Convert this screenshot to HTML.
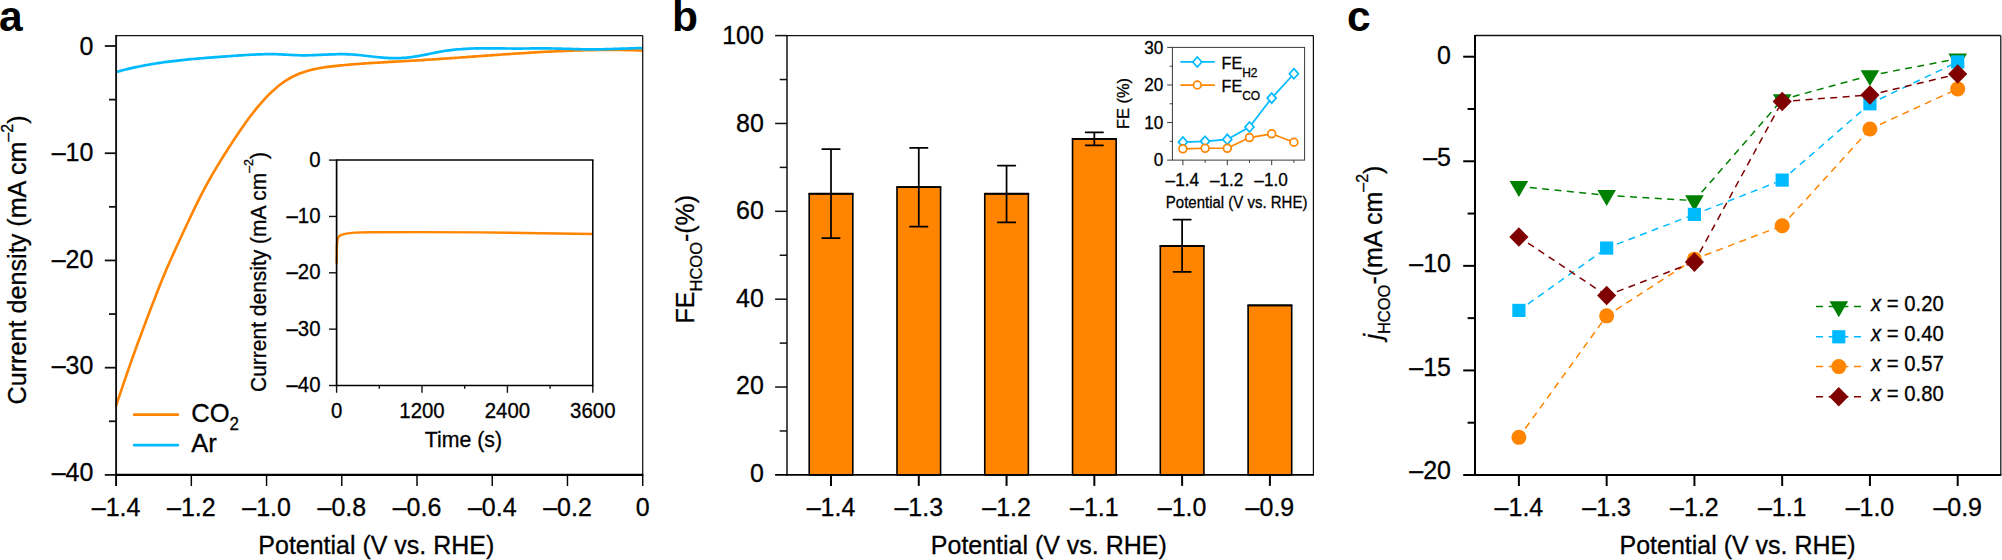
<!DOCTYPE html>
<html lang="en">
<head>
<meta charset="utf-8">
<title>Figure: electrochemical CO2 reduction performance</title>
<style>
html,body{margin:0;padding:0;background:#fff;}
body{width:2002px;height:560px;overflow:hidden;}
svg{display:block;font-family:'Liberation Sans', Arial, Helvetica, sans-serif;}
</style>
</head>
<body>
<svg width="2002" height="560" viewBox="0 0 2002 560">
<rect x="0" y="0" width="2002" height="560" fill="#ffffff"/>
<g id="panel-a">
<path d="M116.0,406.10 L118.2,399.45 L120.4,392.86 L122.6,386.34 L124.8,379.89 L127.0,373.50 L129.2,367.18 L131.4,360.92 L133.6,354.72 L135.8,348.58 L138.0,342.51 L140.3,336.49 L142.5,330.53 L144.7,324.63 L146.9,318.78 L149.1,312.99 L151.3,307.25 L153.5,301.56 L155.7,295.93 L157.9,290.35 L160.1,284.81 L162.3,279.35 L164.5,274.00 L166.7,268.78 L168.9,263.71 L171.1,258.75 L173.3,253.87 L175.5,249.04 L177.7,244.25 L179.9,239.46 L182.1,234.70 L184.3,229.94 L186.5,225.20 L188.8,220.47 L191.0,215.78 L193.2,211.15 L195.4,206.57 L197.6,202.07 L199.8,197.66 L202.0,193.35 L204.2,189.16 L206.4,185.07 L208.6,181.08 L210.8,177.18 L213.0,173.36 L215.2,169.61 L217.4,165.93 L219.6,162.32 L221.8,158.75 L224.0,155.23 L226.2,151.75 L228.4,148.30 L230.6,144.87 L232.8,141.48 L235.1,138.12 L237.3,134.80 L239.5,131.53 L241.7,128.31 L243.9,125.15 L246.1,122.05 L248.3,119.03 L250.5,116.07 L252.7,113.19 L254.9,110.40 L257.1,107.69 L259.3,105.06 L261.5,102.52 L263.7,100.06 L265.9,97.70 L268.1,95.42 L270.3,93.24 L272.5,91.15 L274.7,89.16 L276.9,87.26 L279.1,85.46 L281.3,83.76 L283.6,82.16 L285.8,80.67 L288.0,79.27 L290.2,77.99 L292.4,76.80 L294.6,75.70 L296.8,74.69 L299.0,73.77 L301.2,72.92 L303.4,72.15 L305.6,71.44 L307.8,70.79 L310.0,70.19 L312.2,69.65 L314.4,69.15 L316.6,68.69 L318.8,68.26 L321.0,67.87 L323.2,67.51 L325.4,67.18 L327.6,66.87 L329.9,66.59 L332.1,66.32 L334.3,66.08 L336.5,65.84 L338.7,65.62 L340.9,65.41 L343.1,65.20 L345.3,65.00 L347.5,64.81 L349.7,64.62 L351.9,64.44 L354.1,64.26 L356.3,64.09 L358.5,63.92 L360.7,63.76 L362.9,63.60 L365.1,63.44 L367.3,63.29 L369.5,63.14 L371.7,63.00 L373.9,62.86 L376.1,62.72 L378.4,62.59 L380.6,62.45 L382.8,62.32 L385.0,62.19 L387.2,62.07 L389.4,61.94 L391.6,61.82 L393.8,61.69 L396.0,61.57 L398.2,61.45 L400.4,61.32 L402.6,61.20 L404.8,61.08 L407.0,60.96 L409.2,60.83 L411.4,60.71 L413.6,60.58 L415.8,60.46 L418.0,60.33 L420.2,60.20 L422.4,60.06 L424.7,59.93 L426.9,59.79 L429.1,59.65 L431.3,59.51 L433.5,59.37 L435.7,59.22 L437.9,59.08 L440.1,58.93 L442.3,58.78 L444.5,58.63 L446.7,58.48 L448.9,58.33 L451.1,58.18 L453.3,58.02 L455.5,57.87 L457.7,57.71 L459.9,57.55 L462.1,57.40 L464.3,57.24 L466.5,57.08 L468.7,56.92 L470.9,56.76 L473.2,56.60 L475.4,56.44 L477.6,56.28 L479.8,56.12 L482.0,55.97 L484.2,55.81 L486.4,55.65 L488.6,55.49 L490.8,55.33 L493.0,55.17 L495.2,55.02 L497.4,54.86 L499.6,54.71 L501.8,54.55 L504.0,54.40 L506.2,54.25 L508.4,54.10 L510.6,53.95 L512.8,53.80 L515.0,53.65 L517.2,53.51 L519.5,53.37 L521.7,53.22 L523.9,53.08 L526.1,52.95 L528.3,52.81 L530.5,52.68 L532.7,52.54 L534.9,52.41 L537.1,52.29 L539.3,52.16 L541.5,52.04 L543.7,51.92 L545.9,51.80 L548.1,51.69 L550.3,51.57 L552.5,51.47 L554.7,51.36 L556.9,51.26 L559.1,51.16 L561.3,51.06 L563.5,50.97 L565.7,50.88 L568.0,50.79 L570.2,50.71 L572.4,50.63 L574.6,50.55 L576.8,50.48 L579.0,50.42 L581.2,50.35 L583.4,50.29 L585.6,50.24 L587.8,50.19 L590.0,50.14 L592.2,50.10 L594.4,50.06 L596.6,50.03 L598.8,50.00 L601.0,49.98 L603.2,49.96 L605.4,49.95 L607.6,49.94 L609.8,49.93 L612.0,49.94 L614.3,49.94 L616.5,49.96 L618.7,49.97 L620.9,50.00 L623.1,50.03 L625.3,50.06 L627.5,50.10 L629.7,50.15 L631.9,50.20 L634.1,50.26 L636.3,50.33 L638.5,50.40 L640.7,50.48 L642.9,50.56" fill="none" stroke="#FF8500" stroke-width="2.65" stroke-linejoin="round"/>
<path d="M116.0,72.06 L118.2,71.44 L120.4,70.85 L122.6,70.27 L124.8,69.71 L127.0,69.17 L129.2,68.64 L131.4,68.13 L133.6,67.64 L135.8,67.16 L138.0,66.70 L140.2,66.25 L142.5,65.82 L144.7,65.40 L146.9,64.99 L149.1,64.60 L151.3,64.22 L153.5,63.85 L155.7,63.50 L157.9,63.16 L160.1,62.82 L162.3,62.50 L164.5,62.20 L166.7,61.90 L168.9,61.61 L171.1,61.33 L173.3,61.06 L175.5,60.80 L177.7,60.55 L179.9,60.30 L182.1,60.06 L184.3,59.84 L186.5,59.61 L188.7,59.40 L190.9,59.19 L193.1,58.99 L195.4,58.79 L197.6,58.60 L199.8,58.41 L202.0,58.23 L204.2,58.05 L206.4,57.87 L208.6,57.70 L210.8,57.53 L213.0,57.37 L215.2,57.20 L217.4,57.04 L219.6,56.88 L221.8,56.72 L224.0,56.56 L226.2,56.40 L228.4,56.24 L230.6,56.08 L232.8,55.93 L235.0,55.77 L237.2,55.61 L239.4,55.46 L241.6,55.31 L243.8,55.16 L246.0,55.02 L248.3,54.89 L250.5,54.76 L252.7,54.65 L254.9,54.54 L257.1,54.45 L259.3,54.36 L261.5,54.30 L263.7,54.24 L265.9,54.20 L268.1,54.18 L270.3,54.17 L272.5,54.18 L274.7,54.21 L276.9,54.26 L279.1,54.33 L281.3,54.42 L283.5,54.53 L285.7,54.65 L287.9,54.77 L290.1,54.88 L292.3,55.00 L294.5,55.10 L296.7,55.19 L298.9,55.26 L301.2,55.30 L303.4,55.31 L305.6,55.31 L307.8,55.28 L310.0,55.23 L312.2,55.17 L314.4,55.09 L316.6,55.01 L318.8,54.92 L321.0,54.82 L323.2,54.72 L325.4,54.62 L327.6,54.53 L329.8,54.44 L332.0,54.36 L334.2,54.29 L336.4,54.24 L338.6,54.20 L340.8,54.18 L343.0,54.19 L345.2,54.22 L347.4,54.28 L349.6,54.37 L351.8,54.49 L354.1,54.64 L356.3,54.82 L358.5,55.02 L360.7,55.24 L362.9,55.47 L365.1,55.72 L367.3,55.97 L369.5,56.23 L371.7,56.49 L373.9,56.74 L376.1,56.98 L378.3,57.22 L380.5,57.43 L382.7,57.63 L384.9,57.80 L387.1,57.95 L389.3,58.06 L391.5,58.14 L393.7,58.18 L395.9,58.18 L398.1,58.14 L400.3,58.06 L402.5,57.94 L404.7,57.78 L407.0,57.58 L409.2,57.34 L411.4,57.07 L413.6,56.77 L415.8,56.43 L418.0,56.07 L420.2,55.68 L422.4,55.27 L424.6,54.84 L426.8,54.40 L429.0,53.95 L431.2,53.49 L433.4,53.04 L435.6,52.60 L437.8,52.18 L440.0,51.78 L442.2,51.40 L444.4,51.04 L446.6,50.71 L448.8,50.41 L451.0,50.13 L453.2,49.87 L455.4,49.63 L457.6,49.42 L459.9,49.23 L462.1,49.06 L464.3,48.92 L466.5,48.79 L468.7,48.68 L470.9,48.58 L473.1,48.51 L475.3,48.45 L477.5,48.40 L479.7,48.36 L481.9,48.34 L484.1,48.32 L486.3,48.32 L488.5,48.32 L490.7,48.33 L492.9,48.34 L495.1,48.36 L497.3,48.38 L499.5,48.41 L501.7,48.43 L503.9,48.46 L506.1,48.48 L508.3,48.50 L510.5,48.52 L512.8,48.54 L515.0,48.54 L517.2,48.54 L519.4,48.54 L521.6,48.53 L523.8,48.52 L526.0,48.50 L528.2,48.48 L530.4,48.46 L532.6,48.44 L534.8,48.43 L537.0,48.41 L539.2,48.40 L541.4,48.40 L543.6,48.40 L545.8,48.40 L548.0,48.42 L550.2,48.44 L552.4,48.48 L554.6,48.52 L556.8,48.57 L559.0,48.62 L561.2,48.69 L563.4,48.75 L565.7,48.82 L567.9,48.89 L570.1,48.96 L572.3,49.02 L574.5,49.09 L576.7,49.15 L578.9,49.21 L581.1,49.26 L583.3,49.30 L585.5,49.34 L587.7,49.37 L589.9,49.38 L592.1,49.38 L594.3,49.38 L596.5,49.36 L598.7,49.33 L600.9,49.29 L603.1,49.25 L605.3,49.19 L607.5,49.13 L609.7,49.07 L611.9,49.00 L614.1,48.93 L616.3,48.86 L618.6,48.78 L620.8,48.70 L623.0,48.63 L625.2,48.55 L627.4,48.48 L629.6,48.40 L631.8,48.34 L634.0,48.27 L636.2,48.21 L638.4,48.16 L640.6,48.11 L642.8,48.08" fill="none" stroke="#00BAFF" stroke-width="2.7" stroke-linejoin="round"/>
<line x1="116.10" y1="35.60" x2="642.70" y2="35.60" stroke="#111111" stroke-width="1.3" />
<line x1="642.70" y1="35.60" x2="642.70" y2="474.90" stroke="#111111" stroke-width="1.25" />
<line x1="116.10" y1="35.00" x2="116.10" y2="475.90" stroke="#111111" stroke-width="1.9" />
<line x1="115.10" y1="474.90" x2="643.30" y2="474.90" stroke="#000" stroke-width="2.1" />
<line x1="104.80" y1="46.00" x2="116.10" y2="46.00" stroke="#111111" stroke-width="1.8" />
<text transform="translate(93.40,54.80) scale(0.9588,1)" font-size="26.07" text-anchor="end" fill="#000000" stroke="#000000" stroke-width="0.3" >0</text>
<line x1="109.00" y1="99.61" x2="116.10" y2="99.61" stroke="#111111" stroke-width="1.8" />
<line x1="104.80" y1="153.22" x2="116.10" y2="153.22" stroke="#111111" stroke-width="1.8" />
<text transform="translate(93.40,161.35) scale(0.9588,1)" font-size="26.07" text-anchor="end" fill="#000000" stroke="#000000" stroke-width="0.3" >–10</text>
<line x1="109.00" y1="206.84" x2="116.10" y2="206.84" stroke="#111111" stroke-width="1.8" />
<line x1="104.80" y1="260.45" x2="116.10" y2="260.45" stroke="#111111" stroke-width="1.8" />
<text transform="translate(93.40,267.90) scale(0.9588,1)" font-size="26.07" text-anchor="end" fill="#000000" stroke="#000000" stroke-width="0.3" >–20</text>
<line x1="109.00" y1="314.06" x2="116.10" y2="314.06" stroke="#111111" stroke-width="1.8" />
<line x1="104.80" y1="367.67" x2="116.10" y2="367.67" stroke="#111111" stroke-width="1.8" />
<text transform="translate(93.40,374.45) scale(0.9588,1)" font-size="26.07" text-anchor="end" fill="#000000" stroke="#000000" stroke-width="0.3" >–30</text>
<line x1="109.00" y1="421.29" x2="116.10" y2="421.29" stroke="#111111" stroke-width="1.8" />
<line x1="104.80" y1="474.90" x2="116.10" y2="474.90" stroke="#111111" stroke-width="1.8" />
<text transform="translate(93.40,481.00) scale(0.9588,1)" font-size="26.07" text-anchor="end" fill="#000000" stroke="#000000" stroke-width="0.3" >–40</text>
<line x1="116.10" y1="474.90" x2="116.10" y2="486.00" stroke="#000" stroke-width="1.9" />
<text transform="translate(116.10,515.80) scale(0.9588,1)" font-size="26.07" text-anchor="middle" fill="#000000" stroke="#000000" stroke-width="0.3" >–1.4</text>
<line x1="191.33" y1="474.90" x2="191.33" y2="486.00" stroke="#000" stroke-width="1.45" />
<text transform="translate(191.33,515.80) scale(0.9588,1)" font-size="26.07" text-anchor="middle" fill="#000000" stroke="#000000" stroke-width="0.3" >–1.2</text>
<line x1="266.56" y1="474.90" x2="266.56" y2="486.00" stroke="#000" stroke-width="1.45" />
<text transform="translate(266.56,515.80) scale(0.9588,1)" font-size="26.07" text-anchor="middle" fill="#000000" stroke="#000000" stroke-width="0.3" >–1.0</text>
<line x1="341.79" y1="474.90" x2="341.79" y2="486.00" stroke="#000" stroke-width="1.45" />
<text transform="translate(341.79,515.80) scale(0.9588,1)" font-size="26.07" text-anchor="middle" fill="#000000" stroke="#000000" stroke-width="0.3" >–0.8</text>
<line x1="417.01" y1="474.90" x2="417.01" y2="486.00" stroke="#000" stroke-width="1.45" />
<text transform="translate(417.01,515.80) scale(0.9588,1)" font-size="26.07" text-anchor="middle" fill="#000000" stroke="#000000" stroke-width="0.3" >–0.6</text>
<line x1="492.24" y1="474.90" x2="492.24" y2="486.00" stroke="#000" stroke-width="1.45" />
<text transform="translate(492.24,515.80) scale(0.9588,1)" font-size="26.07" text-anchor="middle" fill="#000000" stroke="#000000" stroke-width="0.3" >–0.4</text>
<line x1="567.47" y1="474.90" x2="567.47" y2="486.00" stroke="#000" stroke-width="1.45" />
<text transform="translate(567.47,515.80) scale(0.9588,1)" font-size="26.07" text-anchor="middle" fill="#000000" stroke="#000000" stroke-width="0.3" >–0.2</text>
<line x1="642.70" y1="474.90" x2="642.70" y2="486.00" stroke="#000" stroke-width="1.45" />
<text transform="translate(642.70,515.80) scale(0.9588,1)" font-size="26.07" text-anchor="middle" fill="#000000" stroke="#000000" stroke-width="0.3" >0</text>
<text transform="translate(376.30,553.50) scale(0.9588,1)" font-size="26.07" text-anchor="middle" fill="#000000" stroke="#000000" stroke-width="0.3" >Potential (V vs. RHE)</text>
<text transform="translate(25.70,260.00) rotate(-90) scale(0.9588,1)" font-size="26.28" text-anchor="middle" fill="#000000" stroke="#000000" stroke-width="0.3" >Current density (mA cm<tspan font-size="16.48" dy="-13.0">–2</tspan><tspan font-size="26.28" dy="13.0">)</tspan></text>
<text x="-1" y="31" font-size="42.5" font-weight="bold" fill="#000">a</text>
<line x1="134.20" y1="414.70" x2="177.80" y2="414.70" stroke="#FF8500" stroke-width="2.8" stroke-linecap="round"/>
<text transform="translate(191.20,421.70) scale(0.9588,1)" font-size="26.70" text-anchor="start" fill="#000000" stroke="#000000" stroke-width="0.3" >CO<tspan font-size="17.73" dy="8.6">2</tspan></text>
<line x1="134.20" y1="445.10" x2="177.80" y2="445.10" stroke="#00BAFF" stroke-width="2.8" stroke-linecap="round"/>
<text transform="translate(191.20,452.00) scale(0.9588,1)" font-size="26.70" text-anchor="start" fill="#000000" stroke="#000000" stroke-width="0.3" >Ar</text>
<path d="M336.60,263.40 L336.90,245.00 L337.60,239.00 L339.00,236.30 L341.40,234.90 L346.00,233.60 L354.30,232.60 L370.00,232.20 L420.00,232.10 L480.00,232.40 L540.00,233.20 L592.90,234.00" fill="none" stroke="#FF8500" stroke-width="2.4" stroke-linejoin="round"/>
<line x1="336.60" y1="160.10" x2="593.55" y2="160.10" stroke="#000" stroke-width="1.5" />
<line x1="592.80" y1="160.10" x2="592.80" y2="385.50" stroke="#000" stroke-width="1.5" />
<line x1="336.60" y1="159.35" x2="336.60" y2="386.30" stroke="#000" stroke-width="1.7" />
<line x1="335.80" y1="385.50" x2="593.55" y2="385.50" stroke="#000" stroke-width="1.7" />
<line x1="329.00" y1="160.10" x2="336.60" y2="160.10" stroke="#111111" stroke-width="1.4" />
<text transform="translate(320.50,167.20) scale(0.9588,1)" font-size="21.28" text-anchor="end" fill="#000000" stroke="#000000" stroke-width="0.3" >0</text>
<line x1="329.00" y1="216.45" x2="336.60" y2="216.45" stroke="#111111" stroke-width="1.4" />
<text transform="translate(320.50,223.30) scale(0.9588,1)" font-size="21.28" text-anchor="end" fill="#000000" stroke="#000000" stroke-width="0.3" >–10</text>
<line x1="329.00" y1="272.80" x2="336.60" y2="272.80" stroke="#111111" stroke-width="1.4" />
<text transform="translate(320.50,279.40) scale(0.9588,1)" font-size="21.28" text-anchor="end" fill="#000000" stroke="#000000" stroke-width="0.3" >–20</text>
<line x1="329.00" y1="329.15" x2="336.60" y2="329.15" stroke="#111111" stroke-width="1.4" />
<text transform="translate(320.50,335.50) scale(0.9588,1)" font-size="21.28" text-anchor="end" fill="#000000" stroke="#000000" stroke-width="0.3" >–30</text>
<line x1="329.00" y1="385.50" x2="336.60" y2="385.50" stroke="#111111" stroke-width="1.4" />
<text transform="translate(320.50,391.60) scale(0.9588,1)" font-size="21.28" text-anchor="end" fill="#000000" stroke="#000000" stroke-width="0.3" >–40</text>
<line x1="336.60" y1="385.50" x2="336.60" y2="392.80" stroke="#111111" stroke-width="1.4" />
<text transform="translate(336.60,418.40) scale(0.9588,1)" font-size="21.28" text-anchor="middle" fill="#000000" stroke="#000000" stroke-width="0.3" >0</text>
<line x1="379.30" y1="385.50" x2="379.30" y2="388.80" stroke="#111111" stroke-width="1.4" />
<line x1="422.00" y1="385.50" x2="422.00" y2="392.80" stroke="#111111" stroke-width="1.4" />
<text transform="translate(422.00,418.40) scale(0.9588,1)" font-size="21.28" text-anchor="middle" fill="#000000" stroke="#000000" stroke-width="0.3" >1200</text>
<line x1="464.70" y1="385.50" x2="464.70" y2="388.80" stroke="#111111" stroke-width="1.4" />
<line x1="507.40" y1="385.50" x2="507.40" y2="392.80" stroke="#111111" stroke-width="1.4" />
<text transform="translate(507.40,418.40) scale(0.9588,1)" font-size="21.28" text-anchor="middle" fill="#000000" stroke="#000000" stroke-width="0.3" >2400</text>
<line x1="550.10" y1="385.50" x2="550.10" y2="388.80" stroke="#111111" stroke-width="1.4" />
<line x1="592.80" y1="385.50" x2="592.80" y2="392.80" stroke="#111111" stroke-width="1.4" />
<text transform="translate(592.80,418.40) scale(0.9588,1)" font-size="21.28" text-anchor="middle" fill="#000000" stroke="#000000" stroke-width="0.3" >3600</text>
<text transform="translate(463.40,447.00) scale(0.9588,1)" font-size="22.22" text-anchor="middle" fill="#000000" stroke="#000000" stroke-width="0.3" >Time (s)</text>
<text transform="translate(265.70,272.00) rotate(-90) scale(0.9588,1)" font-size="21.90" text-anchor="middle" fill="#000000" stroke="#000000" stroke-width="0.3" >Current density (mA cm<tspan font-size="12.93" dy="-12.8">–2</tspan><tspan font-size="21.90" dy="12.8">)</tspan></text>
</g>
<g id="panel-b">
<rect x="809.20" y="193.75" width="43.60" height="281.15" fill="#FF8500" stroke="#000" stroke-width="1.6" stroke-linejoin="round"/>
<line x1="809.20" y1="193.75" x2="852.80" y2="193.75" stroke="#000" stroke-width="1.85" stroke-linecap="round"/>
<line x1="831.00" y1="149.00" x2="831.00" y2="238.00" stroke="#000" stroke-width="1.75" />
<line x1="822.30" y1="149.20" x2="839.70" y2="149.20" stroke="#000" stroke-width="1.75" stroke-linecap="round"/>
<line x1="822.30" y1="238.00" x2="839.70" y2="238.00" stroke="#000" stroke-width="1.75" stroke-linecap="round"/>
<rect x="896.98" y="187.16" width="43.60" height="287.74" fill="#FF8500" stroke="#000" stroke-width="1.6" stroke-linejoin="round"/>
<line x1="896.98" y1="187.16" x2="940.58" y2="187.16" stroke="#000" stroke-width="1.85" stroke-linecap="round"/>
<line x1="918.78" y1="147.70" x2="918.78" y2="226.70" stroke="#000" stroke-width="1.75" />
<line x1="910.08" y1="147.90" x2="927.48" y2="147.90" stroke="#000" stroke-width="1.75" stroke-linecap="round"/>
<line x1="910.08" y1="226.70" x2="927.48" y2="226.70" stroke="#000" stroke-width="1.75" stroke-linecap="round"/>
<rect x="984.76" y="193.75" width="43.60" height="281.15" fill="#FF8500" stroke="#000" stroke-width="1.6" stroke-linejoin="round"/>
<line x1="984.76" y1="193.75" x2="1028.36" y2="193.75" stroke="#000" stroke-width="1.85" stroke-linecap="round"/>
<line x1="1006.56" y1="165.40" x2="1006.56" y2="222.40" stroke="#000" stroke-width="1.75" />
<line x1="997.86" y1="165.60" x2="1015.26" y2="165.60" stroke="#000" stroke-width="1.75" stroke-linecap="round"/>
<line x1="997.86" y1="222.40" x2="1015.26" y2="222.40" stroke="#000" stroke-width="1.75" stroke-linecap="round"/>
<rect x="1072.54" y="138.84" width="43.60" height="336.06" fill="#FF8500" stroke="#000" stroke-width="1.6" stroke-linejoin="round"/>
<line x1="1072.54" y1="138.84" x2="1116.14" y2="138.84" stroke="#000" stroke-width="1.85" stroke-linecap="round"/>
<line x1="1094.34" y1="132.10" x2="1094.34" y2="145.30" stroke="#000" stroke-width="1.75" />
<line x1="1085.64" y1="132.30" x2="1103.04" y2="132.30" stroke="#000" stroke-width="1.75" stroke-linecap="round"/>
<line x1="1085.64" y1="145.30" x2="1103.04" y2="145.30" stroke="#000" stroke-width="1.75" stroke-linecap="round"/>
<rect x="1160.32" y="246.02" width="43.60" height="228.88" fill="#FF8500" stroke="#000" stroke-width="1.6" stroke-linejoin="round"/>
<line x1="1160.32" y1="246.02" x2="1203.92" y2="246.02" stroke="#000" stroke-width="1.85" stroke-linecap="round"/>
<line x1="1182.12" y1="219.30" x2="1182.12" y2="271.80" stroke="#000" stroke-width="1.75" />
<line x1="1173.42" y1="219.50" x2="1190.82" y2="219.50" stroke="#000" stroke-width="1.75" stroke-linecap="round"/>
<line x1="1173.42" y1="271.80" x2="1190.82" y2="271.80" stroke="#000" stroke-width="1.75" stroke-linecap="round"/>
<rect x="1248.10" y="305.33" width="43.60" height="169.57" fill="#FF8500" stroke="#000" stroke-width="1.6" stroke-linejoin="round"/>
<line x1="1248.10" y1="305.33" x2="1291.70" y2="305.33" stroke="#000" stroke-width="1.85" stroke-linecap="round"/>
<line x1="787.00" y1="35.60" x2="1313.40" y2="35.60" stroke="#111111" stroke-width="1.3" />
<line x1="1313.40" y1="35.60" x2="1313.40" y2="474.90" stroke="#111111" stroke-width="1.25" />
<line x1="787.00" y1="35.00" x2="787.00" y2="475.80" stroke="#111111" stroke-width="1.5" />
<line x1="775.10" y1="474.90" x2="1314.00" y2="474.90" stroke="#000" stroke-width="1.9" />
<text transform="translate(763.80,482.00) scale(0.9588,1)" font-size="26.07" text-anchor="end" fill="#000000" stroke="#000000" stroke-width="0.3" >0</text>
<line x1="779.70" y1="430.97" x2="787.00" y2="430.97" stroke="#111111" stroke-width="1.5" />
<line x1="775.10" y1="387.04" x2="787.00" y2="387.04" stroke="#111111" stroke-width="1.5" />
<text transform="translate(763.80,394.46) scale(0.9588,1)" font-size="26.07" text-anchor="end" fill="#000000" stroke="#000000" stroke-width="0.3" >20</text>
<line x1="779.70" y1="343.11" x2="787.00" y2="343.11" stroke="#111111" stroke-width="1.5" />
<line x1="775.10" y1="299.18" x2="787.00" y2="299.18" stroke="#111111" stroke-width="1.5" />
<text transform="translate(763.80,306.92) scale(0.9588,1)" font-size="26.07" text-anchor="end" fill="#000000" stroke="#000000" stroke-width="0.3" >40</text>
<line x1="779.70" y1="255.25" x2="787.00" y2="255.25" stroke="#111111" stroke-width="1.5" />
<line x1="775.10" y1="211.32" x2="787.00" y2="211.32" stroke="#111111" stroke-width="1.5" />
<text transform="translate(763.80,219.38) scale(0.9588,1)" font-size="26.07" text-anchor="end" fill="#000000" stroke="#000000" stroke-width="0.3" >60</text>
<line x1="779.70" y1="167.39" x2="787.00" y2="167.39" stroke="#111111" stroke-width="1.5" />
<line x1="775.10" y1="123.46" x2="787.00" y2="123.46" stroke="#111111" stroke-width="1.5" />
<text transform="translate(763.80,131.84) scale(0.9588,1)" font-size="26.07" text-anchor="end" fill="#000000" stroke="#000000" stroke-width="0.3" >80</text>
<line x1="779.70" y1="79.53" x2="787.00" y2="79.53" stroke="#111111" stroke-width="1.5" />
<line x1="775.10" y1="35.60" x2="787.00" y2="35.60" stroke="#111111" stroke-width="1.5" />
<text transform="translate(763.80,44.30) scale(0.9588,1)" font-size="26.07" text-anchor="end" fill="#000000" stroke="#000000" stroke-width="0.3" >100</text>
<line x1="831.00" y1="474.90" x2="831.00" y2="485.90" stroke="#000" stroke-width="2.0" />
<text transform="translate(831.00,515.80) scale(0.9588,1)" font-size="26.07" text-anchor="middle" fill="#000000" stroke="#000000" stroke-width="0.3" >–1.4</text>
<line x1="918.78" y1="474.90" x2="918.78" y2="485.90" stroke="#000" stroke-width="2.0" />
<text transform="translate(918.78,515.80) scale(0.9588,1)" font-size="26.07" text-anchor="middle" fill="#000000" stroke="#000000" stroke-width="0.3" >–1.3</text>
<line x1="1006.56" y1="474.90" x2="1006.56" y2="485.90" stroke="#000" stroke-width="2.0" />
<text transform="translate(1006.56,515.80) scale(0.9588,1)" font-size="26.07" text-anchor="middle" fill="#000000" stroke="#000000" stroke-width="0.3" >–1.2</text>
<line x1="1094.34" y1="474.90" x2="1094.34" y2="485.90" stroke="#000" stroke-width="2.0" />
<text transform="translate(1094.34,515.80) scale(0.9588,1)" font-size="26.07" text-anchor="middle" fill="#000000" stroke="#000000" stroke-width="0.3" >–1.1</text>
<line x1="1182.12" y1="474.90" x2="1182.12" y2="485.90" stroke="#000" stroke-width="2.0" />
<text transform="translate(1182.12,515.80) scale(0.9588,1)" font-size="26.07" text-anchor="middle" fill="#000000" stroke="#000000" stroke-width="0.3" >–1.0</text>
<line x1="1269.90" y1="474.90" x2="1269.90" y2="485.90" stroke="#000" stroke-width="2.0" />
<text transform="translate(1269.90,515.80) scale(0.9588,1)" font-size="26.07" text-anchor="middle" fill="#000000" stroke="#000000" stroke-width="0.3" >–0.9</text>
<text transform="translate(1048.80,553.50) scale(0.9588,1)" font-size="26.07" text-anchor="middle" fill="#000000" stroke="#000000" stroke-width="0.3" >Potential (V vs. RHE)</text>
<text transform="translate(694.00,323.40) rotate(-90) scale(0.9588,1)" font-size="26.07" text-anchor="start" fill="#000000" stroke="#000000" stroke-width="0.3" >FE<tspan font-size="17.21" dy="8">HCOO</tspan><tspan font-size="26.07" dy="-8">-(%)</tspan></text>
<text x="672" y="31" font-size="42.5" font-weight="bold" fill="#000">b</text>
<rect x="1172.4" y="47.4" width="132.20" height="112.70" fill="#fff" stroke="none"/>
<path d="M1182.90,142.07 L1205.10,141.32 L1227.30,139.44 L1249.50,127.04 L1271.70,98.12 L1293.90,73.70" fill="none" stroke="#00BAFF" stroke-width="1.7"/>
<path d="M1182.90,137.03 L1187.40,142.07 L1182.90,147.11 L1178.40,142.07 Z" fill="#fff" stroke="#00BAFF" stroke-width="1.7" stroke-linejoin="miter"/>
<path d="M1205.10,136.28 L1209.60,141.32 L1205.10,146.36 L1200.60,141.32 Z" fill="#fff" stroke="#00BAFF" stroke-width="1.7" stroke-linejoin="miter"/>
<path d="M1227.30,134.40 L1231.80,139.44 L1227.30,144.48 L1222.80,139.44 Z" fill="#fff" stroke="#00BAFF" stroke-width="1.7" stroke-linejoin="miter"/>
<path d="M1249.50,122.00 L1254.00,127.04 L1249.50,132.08 L1245.00,127.04 Z" fill="#fff" stroke="#00BAFF" stroke-width="1.7" stroke-linejoin="miter"/>
<path d="M1271.70,93.08 L1276.20,98.12 L1271.70,103.16 L1267.20,98.12 Z" fill="#fff" stroke="#00BAFF" stroke-width="1.7" stroke-linejoin="miter"/>
<path d="M1293.90,68.66 L1298.40,73.70 L1293.90,78.74 L1289.40,73.70 Z" fill="#fff" stroke="#00BAFF" stroke-width="1.7" stroke-linejoin="miter"/>
<path d="M1182.90,148.83 L1205.10,148.27 L1227.30,148.27 L1249.50,137.56 L1271.70,133.80 L1293.90,142.26" fill="none" stroke="#FF8500" stroke-width="1.7"/>
<circle cx="1182.90" cy="148.83" r="3.9" fill="#fff" stroke="#FF8500" stroke-width="1.7"/>
<circle cx="1205.10" cy="148.27" r="3.9" fill="#fff" stroke="#FF8500" stroke-width="1.7"/>
<circle cx="1227.30" cy="148.27" r="3.9" fill="#fff" stroke="#FF8500" stroke-width="1.7"/>
<circle cx="1249.50" cy="137.56" r="3.9" fill="#fff" stroke="#FF8500" stroke-width="1.7"/>
<circle cx="1271.70" cy="133.80" r="3.9" fill="#fff" stroke="#FF8500" stroke-width="1.7"/>
<circle cx="1293.90" cy="142.26" r="3.9" fill="#fff" stroke="#FF8500" stroke-width="1.7"/>
<rect x="1172.4" y="47.4" width="132.20" height="112.70" fill="none" stroke="#3a3a3a" stroke-width="1.0"/>
<line x1="1167.20" y1="160.10" x2="1172.40" y2="160.10" stroke="#3a3a3a" stroke-width="1.0" />
<text transform="translate(1163.40,166.40) scale(0.9588,1)" font-size="17.94" text-anchor="end" fill="#000000" stroke="#000000" stroke-width="0.3" >0</text>
<line x1="1169.70" y1="141.32" x2="1172.40" y2="141.32" stroke="#3a3a3a" stroke-width="1.0" />
<line x1="1167.20" y1="122.53" x2="1172.40" y2="122.53" stroke="#3a3a3a" stroke-width="1.0" />
<text transform="translate(1163.40,128.83) scale(0.9588,1)" font-size="17.94" text-anchor="end" fill="#000000" stroke="#000000" stroke-width="0.3" >10</text>
<line x1="1169.70" y1="103.75" x2="1172.40" y2="103.75" stroke="#3a3a3a" stroke-width="1.0" />
<line x1="1167.20" y1="84.97" x2="1172.40" y2="84.97" stroke="#3a3a3a" stroke-width="1.0" />
<text transform="translate(1163.40,91.27) scale(0.9588,1)" font-size="17.94" text-anchor="end" fill="#000000" stroke="#000000" stroke-width="0.3" >20</text>
<line x1="1169.70" y1="66.18" x2="1172.40" y2="66.18" stroke="#3a3a3a" stroke-width="1.0" />
<line x1="1167.20" y1="47.40" x2="1172.40" y2="47.40" stroke="#3a3a3a" stroke-width="1.0" />
<text transform="translate(1163.40,53.70) scale(0.9588,1)" font-size="17.94" text-anchor="end" fill="#000000" stroke="#000000" stroke-width="0.3" >30</text>
<line x1="1182.90" y1="160.10" x2="1182.90" y2="165.20" stroke="#3a3a3a" stroke-width="1.0" />
<text transform="translate(1182.30,185.70) scale(0.9588,1)" font-size="17.94" text-anchor="middle" fill="#000000" stroke="#000000" stroke-width="0.3" >–1.4</text>
<line x1="1205.10" y1="160.10" x2="1205.10" y2="162.80" stroke="#3a3a3a" stroke-width="1.0" />
<line x1="1227.30" y1="160.10" x2="1227.30" y2="165.20" stroke="#3a3a3a" stroke-width="1.0" />
<text transform="translate(1226.70,185.70) scale(0.9588,1)" font-size="17.94" text-anchor="middle" fill="#000000" stroke="#000000" stroke-width="0.3" >–1.2</text>
<line x1="1249.50" y1="160.10" x2="1249.50" y2="162.80" stroke="#3a3a3a" stroke-width="1.0" />
<line x1="1271.70" y1="160.10" x2="1271.70" y2="165.20" stroke="#3a3a3a" stroke-width="1.0" />
<text transform="translate(1271.10,185.70) scale(0.9588,1)" font-size="17.94" text-anchor="middle" fill="#000000" stroke="#000000" stroke-width="0.3" >–1.0</text>
<line x1="1293.90" y1="160.10" x2="1293.90" y2="162.80" stroke="#3a3a3a" stroke-width="1.0" />
<text transform="translate(1236.60,208.30) scale(0.9588,1)" font-size="15.64" text-anchor="middle" fill="#000000" stroke="#000000" stroke-width="0.3" >Potential (V vs. RHE)</text>
<text transform="translate(1129.00,103.50) rotate(-90) scale(0.9588,1)" font-size="17.11" text-anchor="middle" fill="#000000" stroke="#000000" stroke-width="0.3" >FE (%)</text>
<line x1="1180.40" y1="61.90" x2="1214.80" y2="61.90" stroke="#00BAFF" stroke-width="1.7" />
<path d="M1197.30,56.96 L1201.80,62.00 L1197.30,67.04 L1192.80,62.00 Z" fill="#fff" stroke="#00BAFF" stroke-width="1.7" stroke-linejoin="miter"/>
<text transform="translate(1221.60,68.50) scale(0.9588,1)" font-size="16.79" text-anchor="start" fill="#000000" stroke="#000000" stroke-width="0.3" >FE<tspan font-size="12.52" dy="8.4">H2</tspan></text>
<line x1="1180.40" y1="85.10" x2="1214.80" y2="85.10" stroke="#FF8500" stroke-width="1.7" />
<circle cx="1197.3" cy="85.0" r="3.9" fill="#fff" stroke="#FF8500" stroke-width="1.7"/>
<text transform="translate(1221.60,91.80) scale(0.9588,1)" font-size="16.79" text-anchor="start" fill="#000000" stroke="#000000" stroke-width="0.3" >FE<tspan font-size="12.52" dy="8.6">CO</tspan></text>
</g>
<g id="panel-c">
<line x1="1529.84" y1="187.49" x2="1599.70" y2="194.65" stroke="#008000" stroke-width="1.5" stroke-dasharray="7 5.4"/>
<line x1="1617.64" y1="196.02" x2="1687.43" y2="200.18" stroke="#008000" stroke-width="1.5" stroke-dasharray="7 5.4"/>
<line x1="1701.63" y1="192.29" x2="1777.59" y2="104.86" stroke="#008000" stroke-width="1.5" stroke-dasharray="7 5.4"/>
<line x1="1792.79" y1="96.67" x2="1863.19" y2="77.37" stroke="#008000" stroke-width="1.5" stroke-dasharray="7 5.4"/>
<line x1="1880.75" y1="73.46" x2="1950.82" y2="60.10" stroke="#008000" stroke-width="1.5" stroke-dasharray="7 5.4"/>
<path d="M1509.60,181.07 L1528.20,181.07 L1518.90,196.97 Z" fill="#008000"/>
<path d="M1597.36,190.07 L1615.96,190.07 L1606.66,205.97 Z" fill="#008000"/>
<path d="M1685.12,195.30 L1703.72,195.30 L1694.42,211.20 Z" fill="#008000"/>
<path d="M1772.88,94.28 L1791.48,94.28 L1782.18,110.18 Z" fill="#008000"/>
<path d="M1860.64,70.22 L1879.24,70.22 L1869.94,86.12 Z" fill="#008000"/>
<path d="M1948.40,53.49 L1967.00,53.49 L1957.70,69.39 Z" fill="#008000"/>
<line x1="1527.87" y1="304.03" x2="1600.95" y2="252.13" stroke="#00BAFF" stroke-width="1.5" stroke-dasharray="7 5.4"/>
<line x1="1616.93" y1="244.13" x2="1687.88" y2="216.91" stroke="#00BAFF" stroke-width="1.5" stroke-dasharray="7 5.4"/>
<line x1="1704.67" y1="210.39" x2="1775.66" y2="182.65" stroke="#00BAFF" stroke-width="1.5" stroke-dasharray="7 5.4"/>
<line x1="1790.48" y1="172.88" x2="1864.66" y2="108.35" stroke="#00BAFF" stroke-width="1.5" stroke-dasharray="7 5.4"/>
<line x1="1879.87" y1="99.03" x2="1951.38" y2="64.94" stroke="#00BAFF" stroke-width="1.5" stroke-dasharray="7 5.4"/>
<rect x="1512.30" y="303.80" width="13.2" height="13.2" fill="#00BAFF"/>
<rect x="1600.06" y="241.47" width="13.2" height="13.2" fill="#00BAFF"/>
<rect x="1687.82" y="207.80" width="13.2" height="13.2" fill="#00BAFF"/>
<rect x="1775.58" y="173.50" width="13.2" height="13.2" fill="#00BAFF"/>
<rect x="1863.34" y="97.16" width="13.2" height="13.2" fill="#00BAFF"/>
<rect x="1951.10" y="55.33" width="13.2" height="13.2" fill="#00BAFF"/>
<line x1="1525.34" y1="428.44" x2="1602.56" y2="321.51" stroke="#FF8500" stroke-width="1.5" stroke-dasharray="7 5.4"/>
<line x1="1615.90" y1="309.87" x2="1688.54" y2="262.95" stroke="#FF8500" stroke-width="1.5" stroke-dasharray="7 5.4"/>
<line x1="1704.70" y1="255.24" x2="1775.64" y2="228.19" stroke="#FF8500" stroke-width="1.5" stroke-dasharray="7 5.4"/>
<line x1="1789.58" y1="217.55" x2="1865.23" y2="134.25" stroke="#FF8500" stroke-width="1.5" stroke-dasharray="7 5.4"/>
<line x1="1879.94" y1="124.49" x2="1951.33" y2="91.82" stroke="#FF8500" stroke-width="1.5" stroke-dasharray="7 5.4"/>
<circle cx="1518.90" cy="437.35" r="7.5" fill="#FF8500"/>
<circle cx="1606.66" cy="315.84" r="7.5" fill="#FF8500"/>
<circle cx="1694.42" cy="259.16" r="7.5" fill="#FF8500"/>
<circle cx="1782.18" cy="225.69" r="7.5" fill="#FF8500"/>
<circle cx="1869.94" cy="129.07" r="7.5" fill="#FF8500"/>
<circle cx="1957.70" cy="88.91" r="7.5" fill="#FF8500"/>
<line x1="1528.05" y1="243.09" x2="1600.84" y2="291.66" stroke="#7F0000" stroke-width="1.5" stroke-dasharray="7 5.4"/>
<line x1="1616.94" y1="291.63" x2="1687.88" y2="264.58" stroke="#7F0000" stroke-width="1.5" stroke-dasharray="7 5.4"/>
<line x1="1699.69" y1="252.43" x2="1778.82" y2="107.60" stroke="#7F0000" stroke-width="1.5" stroke-dasharray="7 5.4"/>
<line x1="1793.15" y1="100.65" x2="1862.96" y2="95.49" stroke="#7F0000" stroke-width="1.5" stroke-dasharray="7 5.4"/>
<line x1="1880.64" y1="92.42" x2="1950.89" y2="75.68" stroke="#7F0000" stroke-width="1.5" stroke-dasharray="7 5.4"/>
<path d="M1518.90,227.19 L1528.50,236.99 L1518.90,246.79 L1509.30,236.99 Z" fill="#7F0000"/>
<path d="M1606.66,285.75 L1616.26,295.55 L1606.66,305.35 L1597.06,295.55 Z" fill="#7F0000"/>
<path d="M1694.42,252.29 L1704.02,262.09 L1694.42,271.89 L1684.82,262.09 Z" fill="#7F0000"/>
<path d="M1782.18,91.66 L1791.78,101.46 L1782.18,111.26 L1772.58,101.46 Z" fill="#7F0000"/>
<path d="M1869.94,85.17 L1879.54,94.97 L1869.94,104.77 L1860.34,94.97 Z" fill="#7F0000"/>
<path d="M1957.70,64.26 L1967.30,74.06 L1957.70,83.86 L1948.10,74.06 Z" fill="#7F0000"/>
<line x1="1475.00" y1="35.50" x2="2000.80" y2="35.50" stroke="#111111" stroke-width="1.3" />
<line x1="2000.80" y1="35.50" x2="2000.80" y2="475.00" stroke="#111111" stroke-width="1.25" />
<line x1="1475.00" y1="34.90" x2="1475.00" y2="476.00" stroke="#000" stroke-width="2.0" />
<line x1="1463.20" y1="475.00" x2="2001.40" y2="475.00" stroke="#000" stroke-width="2.1" />
<line x1="1463.20" y1="56.70" x2="1475.00" y2="56.70" stroke="#000" stroke-width="2.0" />
<text transform="translate(1451.00,64.10) scale(0.9588,1)" font-size="26.07" text-anchor="end" fill="#000000" stroke="#000000" stroke-width="0.3" >0</text>
<line x1="1467.60" y1="108.99" x2="1475.00" y2="108.99" stroke="#000" stroke-width="2.0" />
<line x1="1463.20" y1="161.27" x2="1475.00" y2="161.27" stroke="#000" stroke-width="2.0" />
<text transform="translate(1451.00,166.27) scale(0.9588,1)" font-size="26.07" text-anchor="end" fill="#000000" stroke="#000000" stroke-width="0.3" >–5</text>
<line x1="1467.60" y1="213.56" x2="1475.00" y2="213.56" stroke="#000" stroke-width="2.0" />
<line x1="1463.20" y1="265.85" x2="1475.00" y2="265.85" stroke="#000" stroke-width="2.0" />
<text transform="translate(1451.00,272.15) scale(0.9588,1)" font-size="26.07" text-anchor="end" fill="#000000" stroke="#000000" stroke-width="0.3" >–10</text>
<line x1="1467.60" y1="318.14" x2="1475.00" y2="318.14" stroke="#000" stroke-width="2.0" />
<line x1="1463.20" y1="370.42" x2="1475.00" y2="370.42" stroke="#000" stroke-width="2.0" />
<text transform="translate(1451.00,375.92) scale(0.9588,1)" font-size="26.07" text-anchor="end" fill="#000000" stroke="#000000" stroke-width="0.3" >–15</text>
<line x1="1467.60" y1="422.71" x2="1475.00" y2="422.71" stroke="#000" stroke-width="2.0" />
<text transform="translate(1451.00,479.20) scale(0.9588,1)" font-size="26.07" text-anchor="end" fill="#000000" stroke="#000000" stroke-width="0.3" >–20</text>
<line x1="1518.90" y1="475.00" x2="1518.90" y2="486.00" stroke="#000" stroke-width="2.0" />
<text transform="translate(1518.90,515.80) scale(0.9588,1)" font-size="26.07" text-anchor="middle" fill="#000000" stroke="#000000" stroke-width="0.3" >–1.4</text>
<line x1="1606.66" y1="475.00" x2="1606.66" y2="486.00" stroke="#000" stroke-width="2.0" />
<text transform="translate(1606.66,515.80) scale(0.9588,1)" font-size="26.07" text-anchor="middle" fill="#000000" stroke="#000000" stroke-width="0.3" >–1.3</text>
<line x1="1694.42" y1="475.00" x2="1694.42" y2="486.00" stroke="#000" stroke-width="2.0" />
<text transform="translate(1694.42,515.80) scale(0.9588,1)" font-size="26.07" text-anchor="middle" fill="#000000" stroke="#000000" stroke-width="0.3" >–1.2</text>
<line x1="1782.18" y1="475.00" x2="1782.18" y2="486.00" stroke="#000" stroke-width="2.0" />
<text transform="translate(1782.18,515.80) scale(0.9588,1)" font-size="26.07" text-anchor="middle" fill="#000000" stroke="#000000" stroke-width="0.3" >–1.1</text>
<line x1="1869.94" y1="475.00" x2="1869.94" y2="486.00" stroke="#000" stroke-width="2.0" />
<text transform="translate(1869.94,515.80) scale(0.9588,1)" font-size="26.07" text-anchor="middle" fill="#000000" stroke="#000000" stroke-width="0.3" >–1.0</text>
<line x1="1957.70" y1="475.00" x2="1957.70" y2="486.00" stroke="#000" stroke-width="2.0" />
<text transform="translate(1957.70,515.80) scale(0.9588,1)" font-size="26.07" text-anchor="middle" fill="#000000" stroke="#000000" stroke-width="0.3" >–0.9</text>
<text transform="translate(1737.50,553.50) scale(0.9588,1)" font-size="26.07" text-anchor="middle" fill="#000000" stroke="#000000" stroke-width="0.3" >Potential (V vs. RHE)</text>
<text transform="translate(1381.80,339.60) rotate(-90) scale(0.9588,1)" font-size="26.07" text-anchor="start" fill="#000000" stroke="#000000" stroke-width="0.3" ><tspan font-style="italic">j</tspan><tspan font-size="17.21" dy="8">HCOO</tspan><tspan font-size="26.07" dy="-8">-(mA cm</tspan><tspan font-size="16.48" dy="-13.4">–2</tspan><tspan font-size="26.07" dy="13.4">)</tspan></text>
<text x="1347" y="31" font-size="42.5" font-weight="bold" fill="#000">c</text>
<line x1="1816.00" y1="306.60" x2="1861.00" y2="306.60" stroke="#008000" stroke-width="1.5" stroke-dasharray="7 5.67"/>
<path d="M1829.50,301.30 L1848.10,301.30 L1838.80,317.20 Z" fill="#008000"/>
<text transform="translate(1871.00,310.60) scale(0.9588,1)" font-size="21.17" text-anchor="start" fill="#000000" stroke="#000000" stroke-width="0.3" ><tspan font-style="italic">x</tspan> = 0.20</text>
<line x1="1816.00" y1="336.80" x2="1861.00" y2="336.80" stroke="#00BAFF" stroke-width="1.5" stroke-dasharray="7 5.67"/>
<rect x="1832.20" y="330.20" width="13.2" height="13.2" fill="#00BAFF"/>
<text transform="translate(1871.00,340.80) scale(0.9588,1)" font-size="21.17" text-anchor="start" fill="#000000" stroke="#000000" stroke-width="0.3" ><tspan font-style="italic">x</tspan> = 0.40</text>
<line x1="1816.00" y1="366.60" x2="1861.00" y2="366.60" stroke="#FF8500" stroke-width="1.5" stroke-dasharray="7 5.67"/>
<circle cx="1838.80" cy="366.60" r="7.5" fill="#FF8500"/>
<text transform="translate(1871.00,370.60) scale(0.9588,1)" font-size="21.17" text-anchor="start" fill="#000000" stroke="#000000" stroke-width="0.3" ><tspan font-style="italic">x</tspan> = 0.57</text>
<line x1="1816.00" y1="396.80" x2="1861.00" y2="396.80" stroke="#7F0000" stroke-width="1.5" stroke-dasharray="7 5.67"/>
<path d="M1838.80,387.00 L1848.40,396.80 L1838.80,406.60 L1829.20,396.80 Z" fill="#7F0000"/>
<text transform="translate(1871.00,400.80) scale(0.9588,1)" font-size="21.17" text-anchor="start" fill="#000000" stroke="#000000" stroke-width="0.3" ><tspan font-style="italic">x</tspan> = 0.80</text>
</g>
</svg>
</body>
</html>
